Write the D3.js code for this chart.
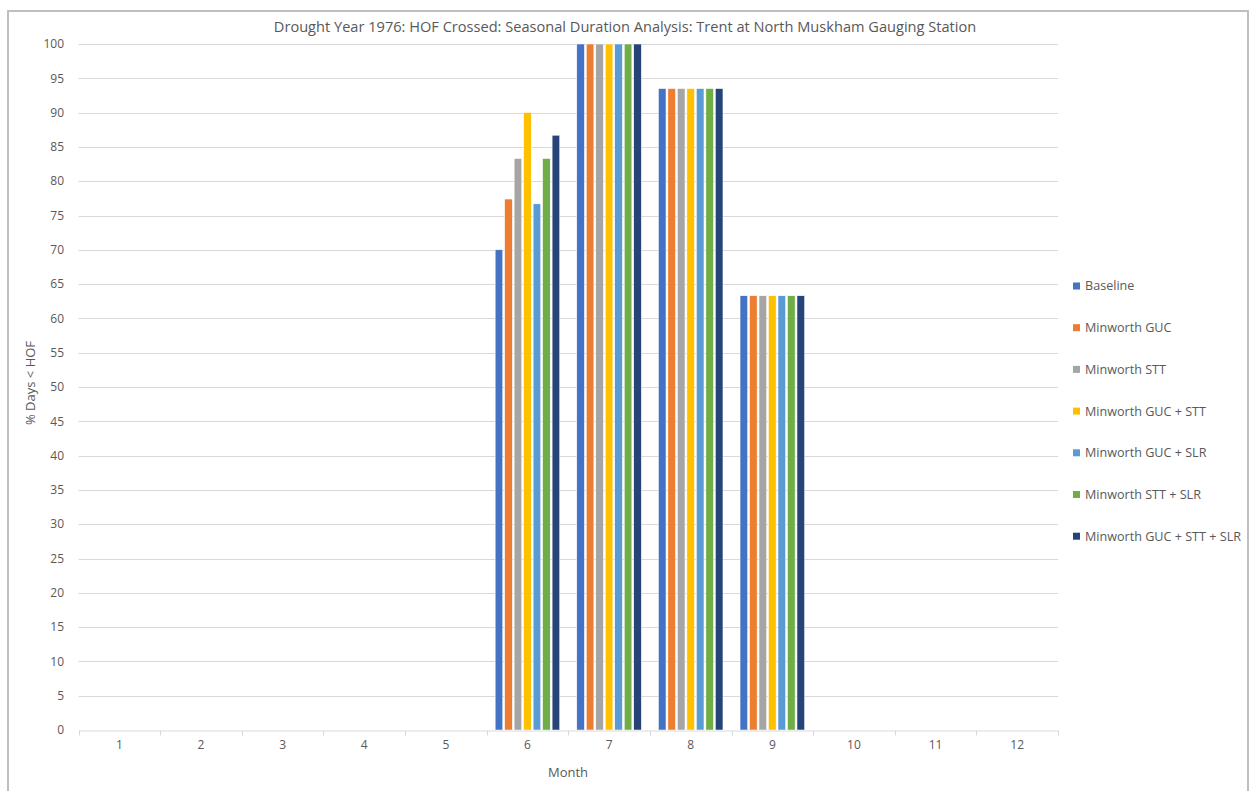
<!DOCTYPE html>
<html>
<head>
<meta charset="utf-8">
<script src="https://cdn.jsdelivr.net/npm/d3@7"></script>
<style>
  body { margin: 0; background: #fff; }
  text { font-family: "Open Sans", sans-serif; fill: #595959; }
</style>
</head>
<body>
<div id="chart"></div>
<script>
var width = 1249, height = 791;

var months = [1, 2, 3, 4, 5, 6, 7, 8, 9, 10, 11, 12];
var seriesNames = ['Baseline', 'Minworth GUC', 'Minworth STT', 'Minworth GUC + STT',
  'Minworth GUC + SLR', 'Minworth STT + SLR', 'Minworth GUC + STT + SLR'];
var colors = ['#4472c4', '#ed7d31', '#a5a5a5', '#ffc000', '#5b9bd5', '#70ad47', '#264478'];

// % days below HOF, one array per month (series order as above)
var june = [70, 77.4, 83.3, 90, 76.7, 83.3, 86.7];
var july = [100, 100, 100, 100, 100, 100, 100];
var august = [93.5, 93.5, 93.5, 93.5, 93.5, 93.5, 93.5];
var september = [63.3, 63.3, 63.3, 63.3, 63.3, 63.3, 63.3];
var zeros = [0, 0, 0, 0, 0, 0, 0];
var monthValues = [zeros, zeros, zeros, zeros, zeros, june, july, august, september, zeros, zeros, zeros];

var yTicks = d3.range(0, 101, 5);

var margin = { left: 78.5, right: 191, top: 44, bottom: 61 };

var svg = d3.select('#chart').append('svg')
  .attr('width', width)
  .attr('height', height);

// outer chart border
svg.append('path')
  .attr('d', 'M8,' + (height + 5) + ' V11 H1248 V' + (height + 5))
  .attr('fill', 'none')
  .attr('stroke', '#bfbfbf')
  .attr('stroke-width', 2);

var x = d3.scaleBand()
  .domain(months)
  .range([margin.left, width - margin.right]);

var inner = d3.scaleBand()
  .domain(d3.range(seriesNames.length))
  .range([0, x.bandwidth()])
  .paddingOuter(0.9)
  .paddingInner(0.2);

var y = d3.scaleLinear()
  .domain([0, 100])
  .range([height - margin.bottom, margin.top]);

// gridlines
svg.append('g')
  .selectAll('line')
  .data(yTicks.filter(function(d) { return d > 0; }))
  .enter().append('line')
  .attr('x1', margin.left)
  .attr('x2', width - margin.right)
  .attr('y1', function(d) { return Math.round(y(d)) + 0.5; })
  .attr('y2', function(d) { return Math.round(y(d)) + 0.5; })
  .attr('stroke', '#d9d9d9')
  .attr('stroke-width', 1);

// y tick labels
svg.append('g')
  .selectAll('text')
  .data(yTicks)
  .enter().append('text')
  .attr('x', 64)
  .attr('y', function(d) { return y(d); })
  .attr('dy', '0.35em')
  .attr('text-anchor', 'end')
  .style('font-size', '12px')
  .text(function(d) { return d; });

// bars
var groups = svg.append('g')
  .selectAll('g')
  .data(months)
  .enter().append('g')
  .attr('transform', function(d) { return 'translate(' + x(d) + ',0)'; });

groups.selectAll('rect')
  .data(function(d, i) {
    return monthValues[i].map(function(v, j) { return { s: j, v: v }; });
  })
  .enter().append('rect')
  .filter(function(d) { return d.v > 0; })
  .attr('x', function(d) { return inner(d.s); })
  .attr('width', inner.bandwidth())
  .attr('y', function(d) { return y(d.v); })
  .attr('height', function(d) { return y(0) - y(d.v); })
  .attr('fill', function(d) { return colors[d.s]; })
  .attr('stroke', '#fff')
  .attr('stroke-width', 0.5);

// x axis
var xAxis = d3.axisBottom(x).tickSize(0).tickPadding(10);
var gx = svg.append('g')
  .attr('transform', 'translate(0,' + (Math.round(y(0)) + 0.5) + ')')
  .call(xAxis);
gx.select('.domain').attr('stroke', '#d9d9d9');
gx.selectAll('text')
  .style('font-size', '12px')
  .style('font-family', '"Open Sans", sans-serif')
  .attr('fill', '#595959');

// category boundary ticks
gx.append('g')
  .selectAll('line')
  .data(months.concat([13]))
  .enter().append('line')
  .attr('x1', function(d) { return Math.round(d <= 12 ? x(d) : x(12) + x.bandwidth()) + 0.5; })
  .attr('x2', function(d) { return Math.round(d <= 12 ? x(d) : x(12) + x.bandwidth()) + 0.5; })
  .attr('y1', 0)
  .attr('y2', 5)
  .attr('stroke', '#d9d9d9');

// title
svg.append('text')
  .attr('x', 625)
  .attr('y', 32)
  .attr('text-anchor', 'middle')
  .style('font-size', '14.6px')
  .text('Drought Year 1976: HOF Crossed: Seasonal Duration Analysis: Trent at North Muskham Gauging Station');

// axis titles
svg.append('text')
  .attr('x', 568)
  .attr('y', 777)
  .attr('text-anchor', 'middle')
  .style('font-size', '13px')
  .text('Month');

svg.append('text')
  .attr('transform', 'translate(35,383) rotate(-90)')
  .attr('text-anchor', 'middle')
  .style('font-size', '13px')
  .text('% Days < HOF');

// legend
var legend = svg.append('g')
  .selectAll('g')
  .data(seriesNames)
  .enter().append('g')
  .attr('transform', function(d, i) { return 'translate(1073,' + (286 + i * 41.7) + ')'; });

legend.append('rect')
  .attr('x', 0)
  .attr('y', -3.5)
  .attr('width', 7)
  .attr('height', 7)
  .attr('fill', function(d, i) { return colors[i]; });

legend.append('text')
  .attr('x', 12)
  .attr('y', 0)
  .attr('dy', '0.35em')
  .style('font-size', '12.6px')
  .text(function(d) { return d; });
</script>
</body>
</html>
